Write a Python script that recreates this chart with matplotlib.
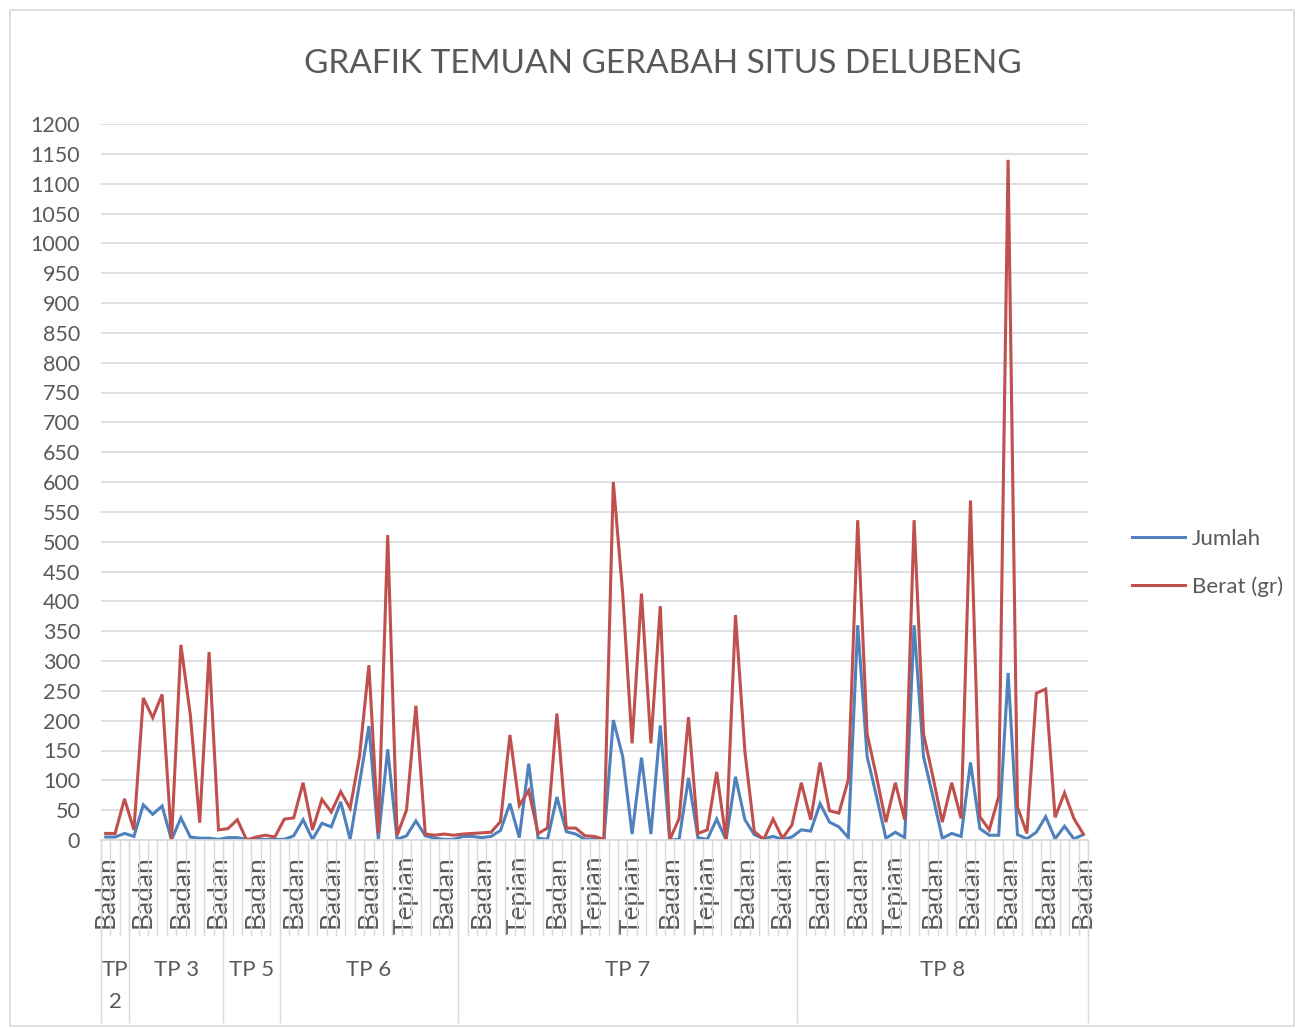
import matplotlib
matplotlib.use("Agg")
import matplotlib.pyplot as plt
from matplotlib.transforms import blended_transform_factory
from matplotlib.patches import Rectangle
from matplotlib.lines import Line2D

plt.rcParams['font.family'] = ['Lato', 'DejaVu Sans']

title = "GRAFIK TEMUAN GERABAH SITUS DELUBENG"
groups = ["TP 2", "TP 3", "TP 5", "TP 6", "TP 7", "TP 8"]
group_sizes = [3, 10, 6, 19, 36, 31]

# visible category labels (every 4th category)
tick_labels = ["Badan", "Badan", "Badan", "Badan", "Badan", "Badan", "Badan",
               "Badan", "Tepian", "Badan", "Badan", "Tepian", "Badan", "Tepian",
               "Tepian", "Badan", "Tepian", "Badan", "Badan", "Badan", "Badan",
               "Tepian", "Badan", "Badan", "Badan", "Badan", "Badan"]

jumlah = [5, 5, 11,
          6, 59, 43, 57, 0, 37, 5, 3, 3, 1,
          4, 4, 1, 1, 1, 1,
          1, 7, 34, 1, 28, 22, 64, 1, 95, 191, 1, 152, 1, 7, 32, 7, 3, 1, 1,
          6, 6, 4, 6, 16, 61, 4, 128, 3, 1, 72, 14, 10, 1, 1, 0, 201, 140, 10,
          138, 10, 192, 0, 1, 104, 4, 1, 35, 0, 106, 34, 9, 2, 6, 1, 5,
          17, 15, 61, 30, 22, 4, 360, 140, 73, 3, 13, 4, 360, 140, 73, 3, 11,
          6, 130, 19, 8, 8, 280, 9, 2, 13, 39, 2, 23, 2, 9]

berat = [11, 11, 69,
         17, 238, 205, 244, 0, 327, 210, 29, 315, 17,
         19, 34, 0, 5, 8, 5,
         35, 37, 96, 17, 68, 47, 81, 53, 140, 293, 11, 511, 8, 50, 225, 10, 8, 10, 8,
         10, 11, 12, 13, 31, 176, 58, 83, 11, 20, 212, 20, 20, 7, 6, 1, 600, 413, 162,
         413, 162, 392, 0, 36, 206, 11, 17, 114, 0, 377, 148, 14, 1, 35, 3, 25,
         96, 34, 130, 49, 45, 101, 536, 178, 106, 30, 96, 34, 536, 178, 106, 30, 96,
         36, 569, 39, 17, 73, 1140, 55, 11, 246, 253, 38, 79, 36, 10]

series_names = ["Jumlah", "Berat (gr)"]
colors = ["#4F81BD", "#C0504D"]

W, H = 1296, 1028
fig = plt.figure(figsize=(W / 100, H / 100), dpi=100)
fig.patch.set_facecolor("white")

# chart border
fig.add_artist(Rectangle((10 / W, 2 / H), (1294 - 10) / W, (1018 - 2) / H,
                         transform=fig.transFigure, fill=False,
                         edgecolor="#D9D9D9", linewidth=1.2))

x0, x1 = 101, 1088
y_top, y_bot = 124, 840
ax = fig.add_axes([x0 / W, (H - y_bot) / H, (x1 - x0) / W, (y_bot - y_top) / H])

n = len(jumlah)
xs = list(range(n))
ax.plot(xs, jumlah, color=colors[0], lw=2.2, label=series_names[0], solid_joinstyle="miter")
ax.plot(xs, berat, color=colors[1], lw=2.2, label=series_names[1], solid_joinstyle="miter")

ax.set_xlim(-0.5, n - 0.5)
ax.set_ylim(0, 1200)
ax.set_yticks(range(0, 1201, 50))
ax.grid(axis="y", color="#D9D9D9", lw=1.2)
ax.set_axisbelow(True)
for s in ["top", "right", "left"]:
    ax.spines[s].set_visible(False)
ax.spines["bottom"].set_color("#D9D9D9")
ax.spines["bottom"].set_linewidth(1.2)
ax.tick_params(axis="y", length=0, pad=15, labelsize=15.5, labelcolor="#595959")

tick_pos = list(range(0, n, 4))
ax.set_xticks(tick_pos)
ax.set_xticklabels(tick_labels[:len(tick_pos)], rotation=90, fontsize=19, color="#595959")
ax.tick_params(axis="x", length=0, pad=11)

tr = blended_transform_factory(ax.transData, fig.transFigure)
y_axis_f = (H - y_bot) / H
y_small_f = (H - 935) / H
y_low_f = (H - 1022) / H
for k in range(n + 1):
    ax.add_line(Line2D([k - 0.5, k - 0.5], [y_axis_f, y_small_f], transform=tr,
                       color="#D9D9D9", lw=1.0, clip_on=False))
start = 0
bounds = [0]
for s in group_sizes:
    start += s
    bounds.append(start)
for b in bounds:
    ax.add_line(Line2D([b - 0.5, b - 0.5], [y_axis_f, y_low_f], transform=tr,
                       color="#D9D9D9", lw=1.0, clip_on=False))
for g, a, b in zip(groups, bounds[:-1], bounds[1:]):
    label = g.replace(" ", "\n") if (b - a) < 4 else g
    ax.text((a + b - 1) / 2, (H - 960) / H, label, transform=tr, ha="center", va="top",
            fontsize=16, color="#595959", linespacing=1.75)

fig.text(663 / W, (H - 64) / H, title, ha="center", va="center", fontsize=24,
         color="#595959")

leg = ax.legend(loc="center left", bbox_to_anchor=(1112 / W, (H - 563) / H),
                bbox_transform=fig.transFigure, frameon=False, fontsize=16,
                handlelength=2.4, handletextpad=0.3, labelspacing=1.25,
                labelcolor="#595959")

fig.savefig("out.png", dpi=100, facecolor="white")
